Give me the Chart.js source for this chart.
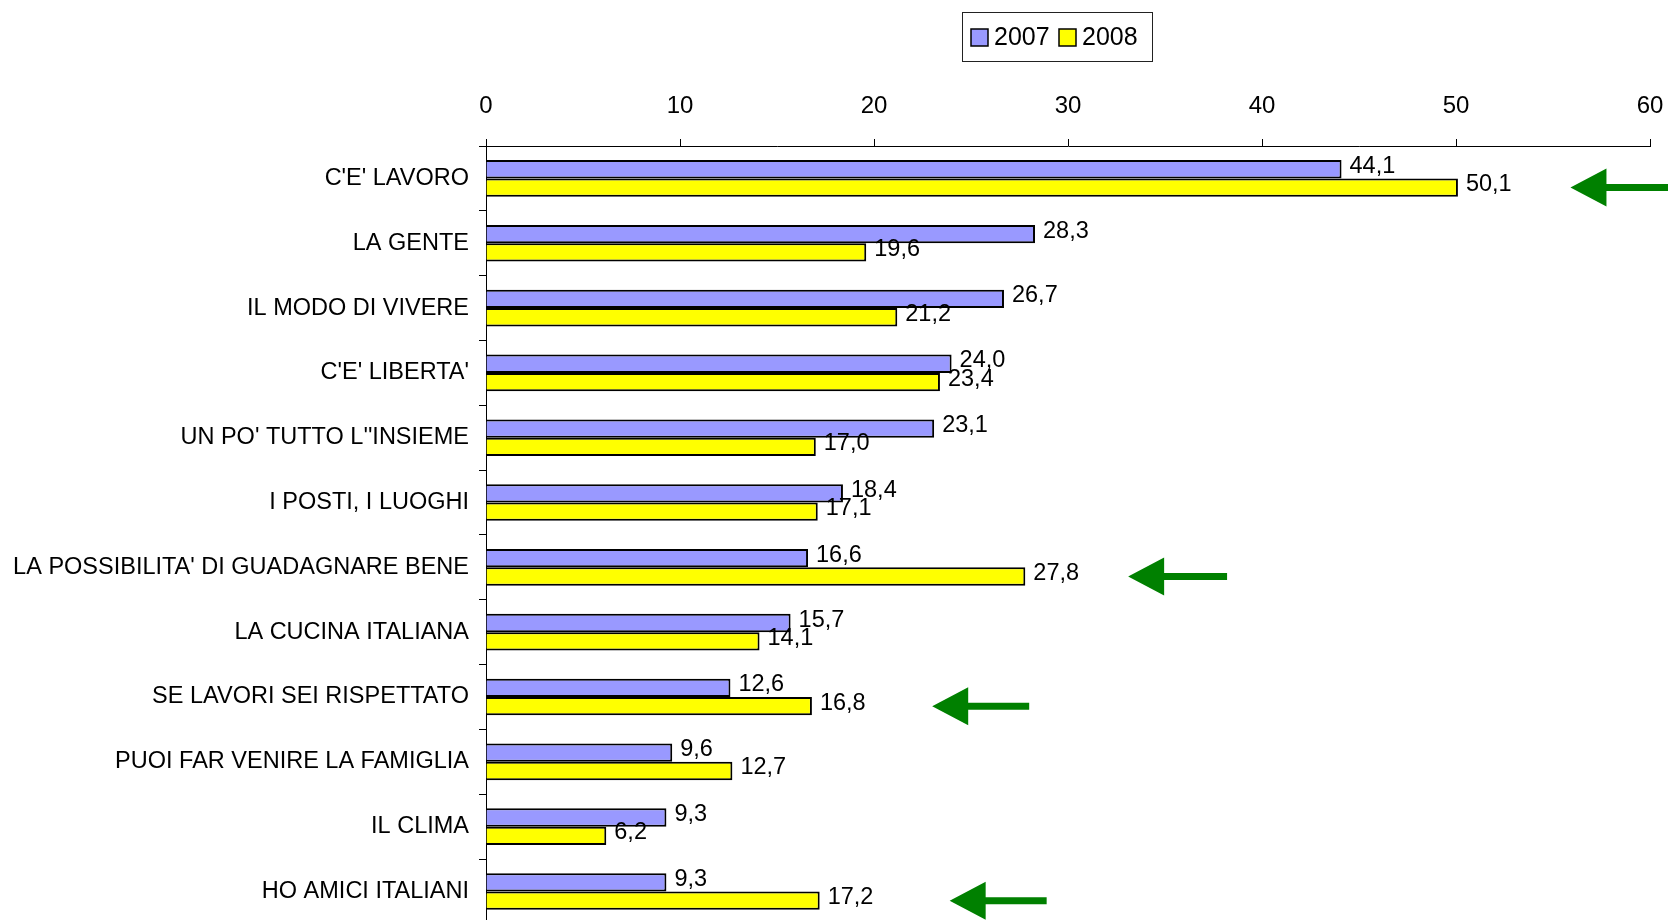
<!DOCTYPE html>
<html>
<head>
<meta charset="utf-8">
<script src="https://cdn.jsdelivr.net/npm/chart.js@4/dist/chart.umd.min.js"></script>
<style>
html,body{margin:0;padding:0;background:#fff;overflow:hidden;}
#wrap{position:relative;width:1668px;height:920px;overflow:hidden;}
canvas{display:block;}
</style>
</head>
<body>
<div id="wrap"><canvas id="c" width="1668" height="948"></canvas></div>
<script>
const categories = [
  "C'E' LAVORO",
  "LA GENTE",
  "IL MODO DI VIVERE",
  "C'E' LIBERTA'",
  "UN PO' TUTTO L''INSIEME",
  "I POSTI, I LUOGHI",
  "LA POSSIBILITA' DI GUADAGNARE BENE",
  "LA CUCINA ITALIANA",
  "SE LAVORI SEI RISPETTATO",
  "PUOI FAR VENIRE LA FAMIGLIA",
  "IL CLIMA",
  "HO AMICI ITALIANI"
];
const values2007 = [44.1, 28.3, 26.7, 24.0, 23.1, 18.4, 16.6, 15.7, 12.6, 9.6, 9.3, 9.3];
const values2008 = [50.1, 19.6, 21.2, 23.4, 17.0, 17.1, 27.8, 14.1, 16.8, 12.7, 6.2, 17.2];
const seriesNames = ["2007", "2008"];
const xTicks = [0, 10, 20, 30, 40, 50, 60];
// highlighted categories (arrows), in data units: category index, tip value, tail value
const arrowCategories = [0, 6, 8, 11];
const arrowTips = [55.9, 33.1, 23.0, 23.9];
const arrowTails = [64, 38.2, 28.0, 28.9];

const FONT = "'Liberation Sans', Arial, sans-serif";

const valueLabels = {
  id: 'valueLabels',
  afterDatasetsDraw(chart) {
    const ctx = chart.ctx;
    ctx.save();
    ctx.font = "23.5px " + FONT;
    ctx.fillStyle = '#000';
    ctx.textAlign = 'left';
    ctx.textBaseline = 'middle';
    chart.data.datasets.forEach((ds, di) => {
      const meta = chart.getDatasetMeta(di);
      meta.data.forEach((bar, i) => {
        const t = ds.data[i].toFixed(1).replace('.', ',');
        ctx.fillText(t, bar.x + 8, bar.y - 3);
      });
    });
    ctx.restore();
  }
};

const arrows = {
  id: 'arrows',
  afterDraw(chart) {
    const ctx = chart.ctx;
    const xs = chart.scales.x;
    const meta = chart.getDatasetMeta(1);
    ctx.save();
    ctx.fillStyle = '#008000';
    arrowCategories.forEach((ci, k) => {
      const y = meta.data[ci].y;
      const tip = xs.getPixelForValue(arrowTips[k]);
      const tail = xs.getPixelForValue(arrowTails[k]);
      const headLen = 36, headHalf = 19, shaft = 3.5;
      ctx.beginPath();
      ctx.moveTo(tip, y);
      ctx.lineTo(tip + headLen, y - headHalf);
      ctx.lineTo(tip + headLen, y - shaft);
      ctx.lineTo(tail, y - shaft);
      ctx.lineTo(tail, y + shaft);
      ctx.lineTo(tip + headLen, y + shaft);
      ctx.lineTo(tip + headLen, y + headHalf);
      ctx.closePath();
      ctx.fill();
    });
    ctx.restore();
  }
};

const boxLegend = {
  id: 'boxLegend',
  afterDraw(chart) {
    const ctx = chart.ctx;
    ctx.save();
    const bx = 962.5, by = 12.5, bw = 190, bh = 49;
    ctx.strokeStyle = '#222';
    ctx.lineWidth = 1;
    ctx.strokeRect(bx, by, bw, bh);
    ctx.font = "25px " + FONT;
    ctx.textBaseline = 'middle';
    ctx.textAlign = 'left';
    const cy = by + bh / 2;
    let x = 971;
    chart.data.datasets.forEach((ds) => {
      ctx.fillStyle = ds.backgroundColor;
      ctx.fillRect(x, cy - 8, 17, 17);
      ctx.strokeStyle = '#000';
      ctx.lineWidth = 1.5;
      ctx.strokeRect(x, cy - 8, 17, 17);
      ctx.fillStyle = '#000';
      ctx.fillText(ds.label, x + 23, cy + 1);
      x += 88;
    });
    ctx.restore();
  }
};

new Chart(document.getElementById('c'), {
  type: 'bar',
  data: {
    labels: categories,
    datasets: [
      { label: seriesNames[0], data: values2007, backgroundColor: '#9999FF', borderColor: '#000', borderWidth: 2, categoryPercentage: 0.565, barPercentage: 1 },
      { label: seriesNames[1], data: values2008, backgroundColor: '#FFFF00', borderColor: '#000', borderWidth: 2, categoryPercentage: 0.565, barPercentage: 1 }
    ]
  },
  options: {
    indexAxis: 'y',
    responsive: false,
    animation: false,
    layout: { padding: { top: 0, left: 0, right: 18, bottom: 0 } },
    plugins: { legend: { display: false }, tooltip: { enabled: false } },
    scales: {
      x: {
        position: 'top',
        min: xTicks[0],
        max: xTicks[xTicks.length - 1],
        afterBuildTicks(s) { s.ticks = xTicks.map(v => ({ value: v })); },
        afterFit(s) { s.height = 146; s.paddingLeft = 0; s.paddingRight = 0; },
        ticks: { color: '#000', font: { family: FONT, size: 24 }, padding: 18, maxRotation: 0 },
        grid: { drawOnChartArea: false, drawTicks: true, tickLength: 7, color: '#000', lineWidth: 1 },
        border: { display: true, color: '#000', width: 1 }
      },
      y: {
        afterFit(s) { s.width = 486; },
        ticks: { color: '#000', font: { family: FONT, size: 23.5 }, padding: 10, autoSkip: false },
        grid: { offset: true, drawOnChartArea: false, drawTicks: true, tickLength: 7, color: '#000', lineWidth: 1 },
        border: { display: true, color: '#000', width: 1 }
      }
    }
  },
  plugins: [valueLabels, arrows, boxLegend]
});
</script>
</body>
</html>
